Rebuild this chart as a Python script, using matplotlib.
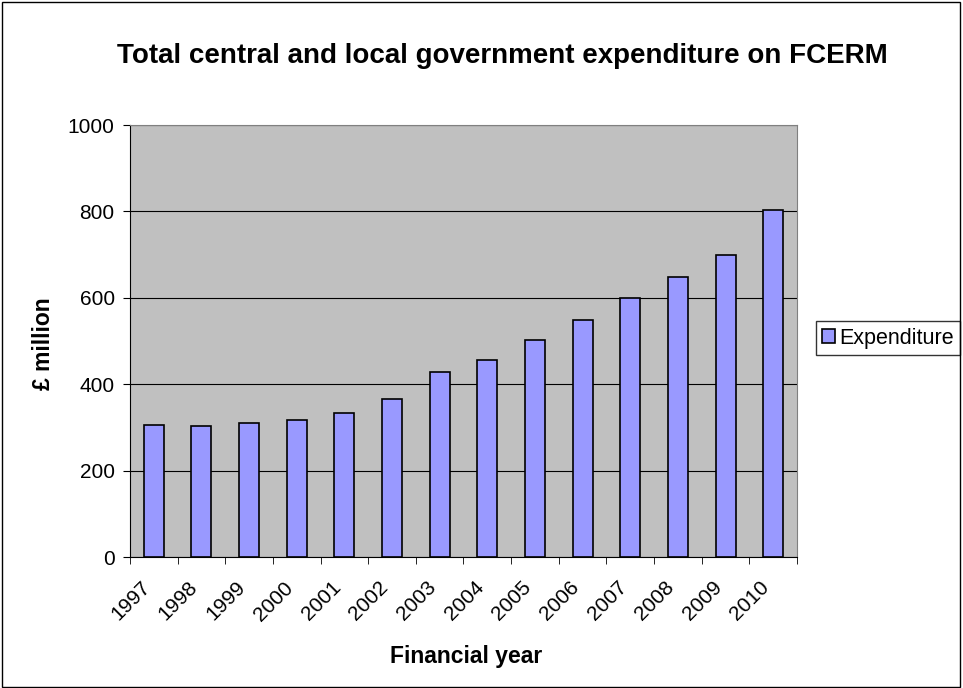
import numpy as np
import matplotlib
matplotlib.use('Agg')
import matplotlib.pyplot as plt
from matplotlib.patches import Rectangle

plt.rcParams['font.family'] = ['Liberation Sans', 'DejaVu Sans']

years = ['1997', '1998', '1999', '2000', '2001', '2002', '2003',
         '2004', '2005', '2006', '2007', '2008', '2009', '2010']
expenditure = [305, 304, 310, 318, 333, 366, 428, 456, 502, 549, 600, 648, 699, 803]

fig = plt.figure(figsize=(9.63, 6.88), dpi=100, facecolor='white')
fig.patches.append(Rectangle((0.002, 0.002), 0.995, 0.995, transform=fig.transFigure,
                             fill=False, edgecolor='black', linewidth=1))
ax = fig.add_axes([0.135, 0.1904, 0.6926, 0.6279])
ax.set_facecolor('#C0C0C0')

x = np.arange(len(years))
ax.bar(x, expenditure, width=0.42, color='#9999FF', edgecolor='black', linewidth=1.2,
       label='Expenditure', zorder=3)

ax.set_xlim(-0.5, len(years) - 0.5)
ax.set_ylim(0, 1000)
ax.set_yticks(range(0, 1001, 200))
ax.yaxis.grid(True, color='black', linewidth=0.8, zorder=1)
ax.tick_params(axis='y', labelsize=15, direction='out', length=5, pad=6)

ax.set_xticks(x - 0.28)
ax.set_xticklabels(years, rotation=45, ha='right', rotation_mode='anchor', fontsize=15)
ax.tick_params(axis='x', length=0, pad=15)
ax.set_xticks(np.arange(-0.5, len(years)), minor=True)
ax.tick_params(axis='x', which='minor', direction='out', length=5)

for s in ['top', 'right']:
    ax.spines[s].set_color('#808080')
for s in ['left', 'bottom']:
    ax.spines[s].set_color('black')

fig.text(0.522, 0.918, 'Total central and local government expenditure on FCERM',
         fontsize=20, fontweight='bold', ha='center', va='center')
fig.text(0.484, 0.046, 'Financial year', fontsize=16.5, fontweight='bold',
         ha='center', va='center')
fig.text(0.045, 0.5, '£ million', fontsize=16.5, fontweight='bold',
         ha='center', va='center', rotation=90)

leg = ax.legend(loc='center left', bbox_to_anchor=(1.028, 0.506), frameon=True,
                fontsize=15.5, fancybox=False, handlelength=0.6, handleheight=0.6,
                handletextpad=0.2, borderpad=0.3, borderaxespad=0)
leg.get_frame().set_edgecolor('black')
leg.get_frame().set_linewidth(1)

plt.savefig('out.png', dpi=100)
